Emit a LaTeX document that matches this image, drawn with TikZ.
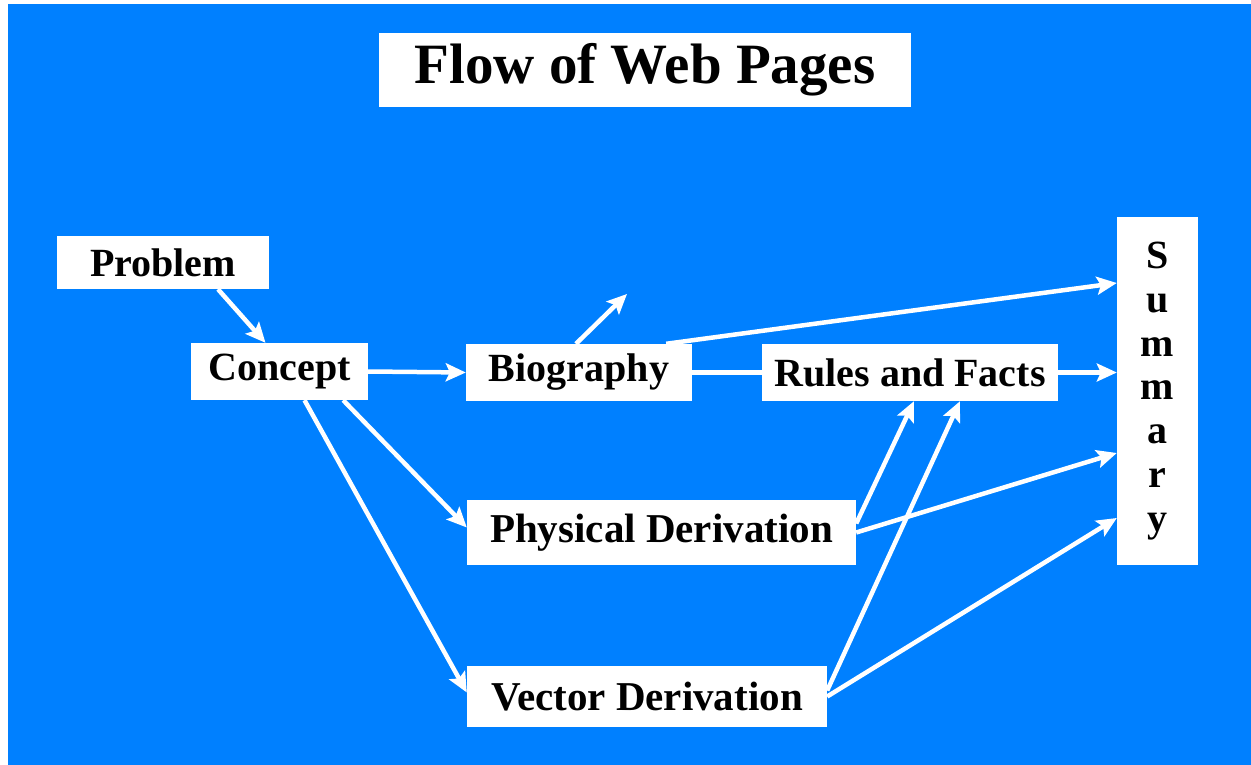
\documentclass[tikz,border=0pt]{standalone}
\usepackage{fontspec}
\setmainfont{Liberation Serif}
\usetikzlibrary{arrows.meta}
\definecolor{slideblue}{RGB}{0,128,255}

\begin{document}
\begin{tikzpicture}[x=1pt,y=-1pt,
  page/.style={fill=white,inner sep=0pt,font=\bfseries\fontsize{40}{43.7}\selectfont},
  flow/.style={white,line width=4.5pt,-{Stealth[length=20pt,width=18pt,inset=4pt]}},
  plainflow/.style={white,line width=4.5pt}]
\useasboundingbox (0,0) rectangle (1251,765);

% draw background
\fill[white] (0,0) rectangle (1251,765);
\fill[slideblue] (8,4) rectangle (1251,765);

% draw title
\node[page,minimum width=532pt,minimum height=74pt,font=\bfseries\fontsize{57}{60}\selectfont] (title) at (645,70) {Flow of Web Pages};

% draw pages
\node[page,minimum width=212pt,minimum height=53pt] (problem) at (163,262.5) {Problem};
\node[page,minimum width=177pt,minimum height=57pt] (concept) at (279.5,371.5) {Concept};
\node[page,minimum width=226pt,minimum height=57pt] (bio) at (579,372.5) {Biography};
\node[page,minimum width=296pt,minimum height=57pt] (rules) at (910,372.5) {Rules and Facts};
\node[page,minimum width=389pt,minimum height=65pt,font=\bfseries\fontsize{41}{44}\selectfont] (phys) at (661.5,532.5) {Physical Derivation};
\node[page,minimum width=360pt,minimum height=61pt,font=\bfseries\fontsize{41}{44}\selectfont] (vector) at (647,696.5) {Vector Derivation};
\node[page,minimum width=81pt,minimum height=348pt,align=center] (summary) at (1157.5,391) {S\\u\\m\\m\\a\\r\\y};

% draw links
\coordinate (bioout) at (627,294);
\draw[flow] ([xshift=55pt]problem.south) -- ([xshift=-14pt]concept.north);
\draw[flow] (concept.east) -- (bio.west);
\draw[flow] ([xshift=-3pt]bio.north) -- (bioout);
\draw[flow] ([xshift=-26pt]bio.north east) -- ([yshift=108pt]summary.west);
\draw[plainflow] (bio.east) -- (rules.west);
\draw[flow] (rules.east) -- (rules.east -| summary.west);
\draw[flow] ([xshift=-25pt]concept.south east) -- ([yshift=5pt]phys.west);
\draw[flow] ([xshift=25pt]concept.south) -- ([yshift=4pt]vector.west);
\draw[flow] ([yshift=9pt]phys.east) -- ([xshift=4pt]rules.south);
\draw[flow] (phys.east) -- ([yshift=-62pt]summary.west);
\draw[flow] ([yshift=6pt]vector.east) -- ([xshift=50pt]rules.south);
\draw[flow] (vector.east) -- ([yshift=-127pt]summary.west);

\end{tikzpicture}
\end{document}
